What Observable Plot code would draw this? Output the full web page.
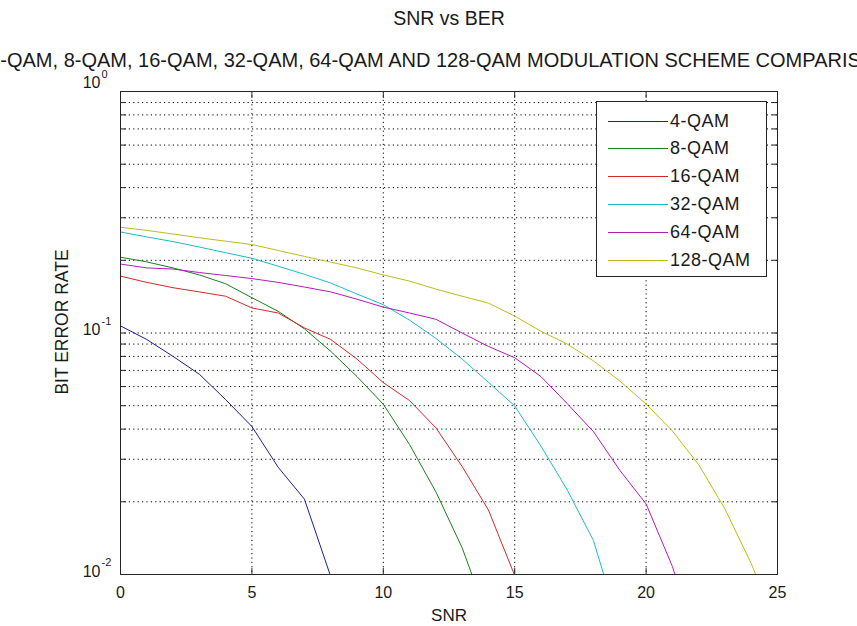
<!DOCTYPE html>
<html>
<head>
<meta charset="utf-8">
<script src="https://cdn.jsdelivr.net/npm/d3@7"></script>
<script src="https://cdn.jsdelivr.net/npm/@observablehq/plot@0.6"></script>
<style>
  body { margin: 0; background: #fff; }
  #wrap { position: relative; width: 857px; height: 626px; overflow: hidden; font-family: "Liberation Sans", Arial, sans-serif; }
  #legend { position: absolute; left: 596px; top: 101px; width: 169px; height: 174px; border: 1px solid #262626; background: #fff; }
  .row { position: absolute; left: 0; height: 22px; display: flex; align-items: center; }
  .sw { width: 60px; height: 0; border-top: 1px solid; margin-left: 11px; margin-right: 2px; }
  .lab { font-size: 18px; letter-spacing: 0.5px; color: #1a1a1a; }
</style>
</head>
<body>
<div id="wrap"></div>
<script>
const snr = [0,1,2,3,4,5,6,7,8,9,10,11,12,13,14,15,16,17,18,19,20,21,22,23,24,25];
const seriesNames = ["4-QAM","8-QAM","16-QAM","32-QAM","64-QAM","128-QAM"];
const seriesColors = ["#1c1c9c","#1a801a","#d42828","#1cbcc8","#b01cb8","#bcbc1c"];
const qam4   = [0.107,0.094,0.080,0.0675,0.053,0.041,0.0278,0.0205,0.0098,0.004];
const qam8   = [0.206,0.197,0.186,0.174,0.160,0.140,0.123,0.104,0.084,0.066,0.0507,0.0345,0.022,0.0129,0.0065];
const qam16  = [0.172,0.162,0.154,0.148,0.142,0.127,0.121,0.105,0.094,0.078,0.0623,0.0525,0.0405,0.028,0.0185,0.0099,0.004];
const qam32  = [0.262,0.250,0.239,0.227,0.215,0.204,0.189,0.175,0.161,0.145,0.131,0.113,0.095,0.078,0.0625,0.0499,0.034,0.0224,0.0138,0.006];
const qam64  = [0.193,0.186,0.184,0.178,0.173,0.168,0.162,0.155,0.148,0.138,0.128,0.121,0.114,0.100,0.088,0.079,0.066,0.051,0.039,0.027,0.0196,0.0108,0.005];
const qam128 = [0.274,0.266,0.257,0.248,0.240,0.2325,0.2196,0.2076,0.1965,0.186,0.174,0.164,0.152,0.142,0.133,0.1175,0.1017,0.090,0.0766,0.0633,0.0508,0.0393,0.0285,0.0187,0.0111,0.006];
const xTicks = [0,5,10,15,20,25];
const xGrid = [5,10,15,20];
const yMajor = [0.01,0.1];
const yExponents = ["-2","-1"];
const yTop = [1];
const yTopExponent = ["0"];
const yMinor = [0.02,0.03,0.04,0.05,0.06,0.07,0.08,0.09,0.1,0.2,0.3,0.4,0.5,0.6,0.7,0.8,0.9];
const yAllTicks = [0.01,0.02,0.03,0.04,0.05,0.06,0.07,0.08,0.09,0.1,0.2,0.3,0.4,0.5,0.6,0.7,0.8,0.9,1];
const title = "SNR vs BER";
const subtitle = "4-QAM, 8-QAM, 16-QAM, 32-QAM, 64-QAM AND 128-QAM MODULATION SCHEME COMPARISON";
const xLabel = "SNR";
const yLabel = "BIT ERROR RATE";

const allSeries = [qam4, qam8, qam16, qam32, qam64, qam128];
const rows = [];
allSeries.forEach((vals, i) => vals.forEach((v, j) => rows.push({snr: snr[j], ber: v, s: seriesNames[i]})));

const ink = "#1a1a1a";
const frameInk = "#262626";
const fontFamily = "\"Liberation Sans\", Arial, sans-serif";

const chart = Plot.plot({
  width: 857,
  height: 626,
  marginLeft: 120,
  marginRight: 80,
  marginTop: 91,
  marginBottom: 52,
  style: {fontFamily, fontSize: "16px", color: ink, background: "#fff", overflow: "hidden"},
  x: {domain: [0, 25], label: null},
  y: {type: "log", domain: [0.01, 1], label: null},
  color: {domain: seriesNames, range: seriesColors},
  marks: [
    Plot.ruleY(yMinor, {stroke: "#000", strokeWidth: 1, strokeDasharray: "1.2,3.2"}),
    Plot.ruleX(xGrid, {stroke: "#000", strokeWidth: 1, strokeDasharray: "1.2,3.2"}),
    Plot.line(rows, {x: "snr", y: "ber", z: "s", stroke: "s", strokeWidth: 1, clip: true}),
    Plot.axisX(xTicks, {anchor: "bottom", tickSize: 0, tickPadding: 12, fontSize: 16, fill: ink, label: null}),
    Plot.axisX(xGrid, {anchor: "bottom", tickSize: -6, text: null, stroke: frameInk, label: null}),
    Plot.axisX(xGrid, {anchor: "top", tickSize: -6, text: null, stroke: frameInk, label: null}),
    Plot.axisY(yAllTicks, {anchor: "left", tickSize: -6, text: null, stroke: frameInk, label: null}),
    Plot.axisY(yAllTicks, {anchor: "right", tickSize: -6, text: null, stroke: frameInk, label: null}),
    Plot.text(yMajor, {y: d => d, frameAnchor: "left", text: () => "10", textAnchor: "end", dx: -20, dy: -3, fontSize: 16, fill: ink}),
    Plot.text(yMajor, {y: d => d, frameAnchor: "left", text: (d, i) => yExponents[i], textAnchor: "start", dx: -19, dy: -12, fontSize: 11, fill: ink}),
    Plot.text(yTop, {y: d => d, frameAnchor: "left", text: () => "10", textAnchor: "end", dx: -20, dy: -9, fontSize: 16, fill: ink}),
    Plot.text(yTop, {y: d => d, frameAnchor: "left", text: (d, i) => yTopExponent[i], textAnchor: "start", dx: -19, dy: -17, fontSize: 11, fill: ink}),
    Plot.frame({stroke: frameInk, strokeWidth: 1}),
    Plot.text([title], {frameAnchor: "top", dy: -73, lineAnchor: "middle", textAnchor: "middle", fontSize: 19.5, fill: ink}),
    Plot.text([subtitle], {frameAnchor: "top", dx: -9, dy: -31, lineAnchor: "middle", textAnchor: "middle", fontSize: 20, fill: ink}),
    Plot.text([xLabel], {frameAnchor: "bottom", dy: 41, lineAnchor: "middle", textAnchor: "middle", fontSize: 17, fill: ink}),
    Plot.text([yLabel], {frameAnchor: "left", dx: -58, dy: -11, rotate: -90, lineAnchor: "middle", textAnchor: "middle", fontSize: 17.5, fill: ink})
  ]
});

const wrap = document.getElementById("wrap");
wrap.appendChild(chart);

const legend = document.createElement("div");
legend.id = "legend";
seriesNames.forEach((name, i) => {
  const row = document.createElement("div");
  row.className = "row";
  row.style.top = (8 + i * 27.8) + "px";
  const sw = document.createElement("span");
  sw.className = "sw";
  sw.style.borderTopColor = seriesColors[i];
  const lab = document.createElement("span");
  lab.className = "lab";
  lab.textContent = name;
  row.appendChild(sw);
  row.appendChild(lab);
  legend.appendChild(row);
});
wrap.appendChild(legend);
</script>
</body>
</html>
